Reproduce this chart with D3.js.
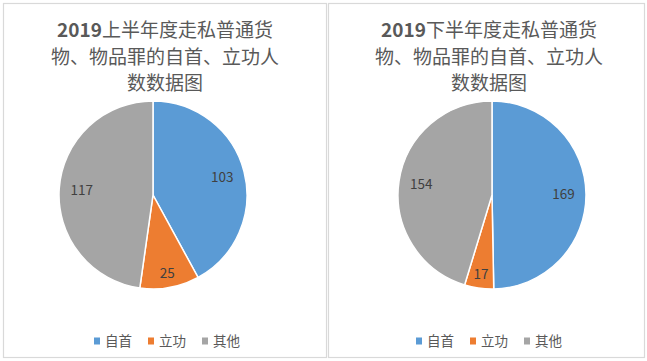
<!DOCTYPE html>
<html>
<head>
<meta charset="utf-8">
<script src="https://cdn.jsdelivr.net/npm/d3@7"></script>
<style>
  body { margin: 0; background: #fff; }
  svg text { font-family: "Noto Sans CJK SC", "Noto Sans", sans-serif; }
</style>
</head>
<body>
<svg id="chart" width="647" height="361"></svg>
<script>
// data
var categories = ["自首", "立功", "其他"];
var firstHalf = [103, 25, 117];
var secondHalf = [169, 17, 154];
var titles = [
  ["2019上半年度走私普通货", "物、物品罪的自首、立功人", "数数据图"],
  ["2019下半年度走私普通货", "物、物品罪的自首、立功人", "数数据图"]
];

var colors = d3.scaleOrdinal().domain(categories).range(["#5B9BD5", "#ED7D31", "#A5A5A5"]);
var svg = d3.select("#chart");

//panel boxes
var panels = [
  {x: 3, w: 323, cx: 153, tx: 165, values: firstHalf, title: titles[0], lx: 97},
  {x: 328, w: 316, cx: 492, tx: 489, values: secondHalf, title: titles[1], lx: 419}
];

panels.forEach(function(p){
  var g = svg.append("g");

  g.append("rect")
    .attr("x", p.x + 0.5).attr("y", 3.5)
    .attr("width", p.w).attr("height", 354)
    .attr("fill", "#fff")
    .attr("stroke", "#d9d9d9")
    .attr("stroke-width", 1.2);

  //title - the digits come out bold, the chinese glyphs regular
  var t = g.selectAll(".title")
    .data(p.title)
    .enter().append("text")
    .attr("class", "title")
    .attr("x", p.tx)
    .attr("y", function(d, i){ return 37 + i * 26.5; })
    .attr("text-anchor", "middle")
    .attr("fill", "#595959")
    .style("font-size", "19px");

  t.each(function(d){
    var parts = d.match(/(\d+|[^\d]+)/g);
    d3.select(this).selectAll("tspan")
      .data(parts)
      .enter().append("tspan")
      .style("font-weight", function(s){ return /\d/.test(s) ? "bold" : "normal"; })
      .text(function(s){ return s; });
  });

  var total = d3.sum(p.values);
  var r = 94;
  var pie = d3.pie().sort(null).value(function(d){ return d.v; });
  var arcs = pie(p.values.map(function(v, i){ return {k: categories[i], v: v}; }));
  var arc = d3.arc().innerRadius(0).outerRadius(r);

  var pg = g.append("g").attr("transform", "translate(" + p.cx + ",195)");

  pg.selectAll("path")
    .data(arcs)
    .enter().append("path")
    .attr("d", arc)
    .attr("fill", function(d){ return colors(d.data.k); })
    .attr("stroke", "#fff")
    .attr("stroke-width", 1.5);

  //value labels, small slices pushed outward a bit like excel does
  pg.selectAll(".lbl")
    .data(arcs)
    .enter().append("text")
    .attr("class", "lbl")
    .attr("transform", function(d){
      var lr = (d.data.v / total < 0.12) ? r * 0.85 : r * 0.76;
      var a = (d.startAngle + d.endAngle) / 2;
      return "translate(" + (Math.sin(a) * lr) + "," + (-Math.cos(a) * lr) + ")";
    })
    .attr("text-anchor", "middle")
    .attr("dy", "0.35em")
    .attr("fill", "#404040")
    .style("font-size", "13.5px")
    .text(function(d){ return d.data.v; });

  //legend
  var lg = g.selectAll(".leg")
    .data(categories)
    .enter().append("g")
    .attr("class", "leg")
    .attr("transform", function(d, i){ return "translate(" + (p.lx + i * 54) + ",341)"; });

  lg.append("rect")
    .attr("x", -3).attr("y", -3.5)
    .attr("width", 6).attr("height", 7)
    .attr("fill", function(d){ return colors(d); });

  lg.append("text")
    .attr("x", 8)
    .attr("dy", "0.36em")
    .attr("fill", "#595959")
    .style("font-size", "13.5px")
    .text(function(d){ return d; });
});
</script>
</body>
</html>
